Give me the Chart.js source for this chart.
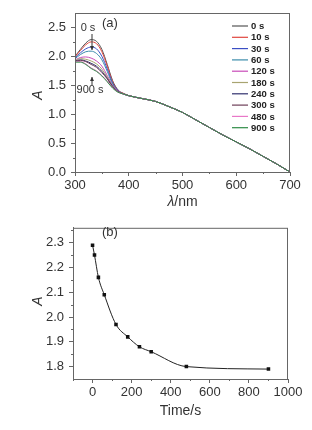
<!DOCTYPE html>
<html lang="en">
<head>
<meta charset="UTF-8">
<title>Absorbance</title>
<script src="https://cdn.jsdelivr.net/npm/chart.js@4.4.0/dist/chart.umd.min.js"></script>
<style>
  body { margin: 0; background: #fff; }
  canvas { display: block; }
</style>
</head>
<body>
<canvas id="chartA" width="312" height="215"></canvas>
<canvas id="chartB" width="312" height="215"></canvas>
<script>
// (a) spectra
const wavelengths = [300, 310, 320, 330, 340, 350, 360, 370, 380, 390, 400, 425, 450, 475, 500, 525, 550, 575, 600, 625, 650, 675, 700]
const timeLabels = ['0 s', '10 s', '30 s', '60 s', '120 s', '180 s', '240 s', '300 s', '480 s', '900 s']
// 300-400 nm part of each curve, the rest is shared
const a0   = [2.00, 2.12, 2.23, 2.29, 2.26, 2.12, 1.86, 1.58, 1.42, 1.36, 1.32]
const a10  = [1.99, 2.10, 2.20, 2.25, 2.22, 2.08, 1.83, 1.56, 1.41, 1.36, 1.32]
const a30  = [1.97, 2.06, 2.13, 2.16, 2.13, 2.00, 1.78, 1.54, 1.41, 1.35, 1.32]
const a60  = [1.96, 2.03, 2.08, 2.09, 2.05, 1.94, 1.74, 1.52, 1.40, 1.35, 1.32]
const a120 = [1.94, 1.98, 1.99, 1.97, 1.92, 1.83, 1.67, 1.50, 1.40, 1.35, 1.32]
const a180 = [1.93, 1.96, 1.95, 1.92, 1.87, 1.78, 1.64, 1.49, 1.39, 1.35, 1.32]
const a240 = [1.92, 1.94, 1.92, 1.88, 1.83, 1.74, 1.62, 1.48, 1.39, 1.35, 1.32]
const a300 = [1.92, 1.93, 1.91, 1.86, 1.81, 1.72, 1.61, 1.47, 1.39, 1.35, 1.32]
const a480 = [1.91, 1.91, 1.87, 1.80, 1.75, 1.67, 1.57, 1.46, 1.38, 1.35, 1.32]
const a900 = [1.90, 1.90, 1.86, 1.79, 1.74, 1.66, 1.56, 1.45, 1.38, 1.35, 1.32]
const tail = [1.27, 1.22, 1.13, 1.03, 0.90, 0.77, 0.64, 0.52, 0.40, 0.27, 0.14, 0.00]
const curvesA = [a0, a10, a30, a60, a120, a180, a240, a300, a480, a900]
const xTicksA = [300, 400, 500, 600, 700]
const yTicksA = [0, 0.5, 1.0, 1.5, 2.0, 2.5]

// (b) kinetics at peak
const times = [0, 10, 30, 60, 120, 180, 240, 300, 480, 900]
const absPeak = [2.29, 2.25, 2.16, 2.09, 1.97, 1.92, 1.88, 1.86, 1.80, 1.79]
const xTicksB = [0, 200, 400, 600, 800, 1000]
const yTicksB = [1.8, 1.9, 2.0, 2.1, 2.2, 2.3]

const lineColors = ['#555555', '#e0463e', '#3b4fc4', '#3b8cab', '#c84bb8', '#a8a470', '#30306e', '#6e3e58', '#e878c8', '#2e8c46']
const font = 'Arial, "Liberation Sans", sans-serif'
const ink = '#333'
const axisCol = '#666'

function frame(ctx, a) {
    ctx.save()
    ctx.strokeStyle = axisCol
    ctx.lineWidth = 1
    ctx.strokeRect(a.left + 0.5, a.top + 0.5, a.right - a.left - 1, a.bottom - a.top)
    ctx.restore()
}

function minorTicks(ctx, chart, xs, ys) {
    const a = chart.chartArea
    ctx.save()
    ctx.strokeStyle = axisCol
    ctx.lineWidth = 1
    ctx.beginPath()
    xs.forEach(v => {
        const px = Math.round(chart.scales.x.getPixelForValue(v)) + 0.5
        ctx.moveTo(px, a.bottom); ctx.lineTo(px, a.bottom + 2)
    })
    ys.forEach(v => {
        const py = Math.round(chart.scales.y.getPixelForValue(v)) + 0.5
        ctx.moveTo(a.left, py); ctx.lineTo(a.left - 2, py)
    })
    ctx.stroke()
    ctx.restore()
}

function yTitle(ctx, x, y) {
    ctx.save()
    ctx.translate(x, y)
    ctx.rotate(-Math.PI / 2)
    ctx.fillStyle = ink
    ctx.font = 'italic 14px ' + font
    ctx.textAlign = 'center'
    ctx.textBaseline = 'middle'
    ctx.fillText('A', 0, 0)
    ctx.restore()
}

function arrow(ctx, x, y1, y2) {
    const dir = y2 > y1 ? 1 : -1
    ctx.beginPath()
    ctx.moveTo(x, y1); ctx.lineTo(x, y2)
    ctx.stroke()
    ctx.beginPath()
    ctx.moveTo(x - 2, y2 - dir * 4); ctx.lineTo(x, y2); ctx.lineTo(x + 2, y2 - dir * 4)
    ctx.closePath()
    ctx.fill()
}

const decorA = {
    id: 'decorA',
    afterDraw(chart) {
        const ctx = chart.ctx
        const a = chart.chartArea
        frame(ctx, a)
        minorTicks(ctx, chart, [350, 450, 550, 650], [0.25, 0.75, 1.25, 1.75, 2.25])
        ctx.save()
        ctx.fillStyle = ink
        ctx.strokeStyle = ink
        ctx.lineWidth = 1
        ctx.textBaseline = 'middle'
        // axis title: italic lambda + /nm
        ctx.font = 'italic 14px ' + font
        const w1 = ctx.measureText('λ').width
        ctx.font = '14px ' + font
        const w2 = ctx.measureText('/nm').width
        const cx = (a.left + a.right) / 2
        let sx = cx - (w1 + w2) / 2
        ctx.font = 'italic 14px ' + font
        ctx.textAlign = 'left'
        ctx.fillText('λ', sx, 202)
        ctx.font = '14px ' + font
        ctx.fillText('/nm', sx + w1, 202)
        // labels inside plot
        ctx.font = '13px ' + font
        ctx.fillText('(a)', 102, 23)
        ctx.font = '11px ' + font
        ctx.textAlign = 'center'
        ctx.fillText('0 s', 88, 28)
        ctx.fillText('900 s', 90, 90)
        arrow(ctx, 92, 34, 50)
        arrow(ctx, 92, 85, 77)
        ctx.restore()
        yTitle(ctx, 38, 95)
        // legend, in time order
        ctx.save()
        ctx.font = 'bold 9.5px ' + font
        ctx.textBaseline = 'middle'
        ctx.textAlign = 'left'
        chart.data.datasets.forEach((d, i) => {
            const y = 26 + i * 11.3
            ctx.strokeStyle = d.borderColor
            ctx.lineWidth = 1.2
            ctx.beginPath()
            ctx.moveTo(232, y); ctx.lineTo(248, y)
            ctx.stroke()
            ctx.fillStyle = '#222'
            ctx.fillText(d.label, 251, y + 0.5)
        })
        ctx.restore()
    }
}

const decorB = {
    id: 'decorB',
    afterDraw(chart) {
        const ctx = chart.ctx
        const a = chart.chartArea
        frame(ctx, a)
        minorTicks(ctx, chart, [-100, 100, 300, 500, 700, 900], [1.85, 1.95, 2.05, 2.15, 2.25, 2.35])
        ctx.save()
        ctx.fillStyle = ink
        ctx.textBaseline = 'middle'
        ctx.textAlign = 'center'
        ctx.font = '14px ' + font
        ctx.fillText('Time/s', (a.left + a.right) / 2, 196)
        ctx.font = '13px ' + font
        ctx.textAlign = 'left'
        ctx.fillText('(b)', 102, 17)
        ctx.restore()
        yTitle(ctx, 38, 86)
    }
}

function axis(min, max, ticks, fmt, size, pad) {
    return {
        type: 'linear',
        min: min,
        max: max,
        afterBuildTicks: s => { s.ticks = ticks.map(v => ({ value: v })) },
        afterFit: s => { if (s.isHorizontal()) s.height = size; else s.width = size },
        grid: { drawOnChartArea: false, drawTicks: true, tickLength: 4, color: axisCol },
        border: { color: axisCol },
        ticks: {
            padding: pad,
            color: ink,
            font: { family: font, size: 13 },
            callback: fmt,
            maxRotation: 0,
            autoSkip: false
        }
    }
}

new Chart(document.getElementById('chartA'), {
    type: 'line',
    data: {
        datasets: curvesA.map((c, i) => ({
            label: timeLabels[i],
            data: c.concat(tail).map((v, j) => ({ x: wavelengths[j], y: v })),
            borderColor: lineColors[i],
            borderWidth: 1,
            pointRadius: 0,
            order: curvesA.length - i,
            cubicInterpolationMode: 'monotone'
        }))
    },
    options: {
        responsive: false,
        animation: false,
        layout: { padding: { top: 13, right: 22, left: 0, bottom: 0 } },
        plugins: { legend: { display: false }, tooltip: { enabled: false } },
        scales: {
            x: axis(300, 700, xTicksA, v => String(v), 43, 2),
            y: axis(0, 2.75, yTicksA, v => v.toFixed(1), 75, 5)
        }
    },
    plugins: [decorA]
})

new Chart(document.getElementById('chartB'), {
    type: 'line',
    data: {
        datasets: [{
            label: 'A',
            data: times.map((t, i) => ({ x: t, y: absPeak[i] })),
            borderColor: '#222',
            borderWidth: 1,
            backgroundColor: '#111',
            pointStyle: 'rect',
            pointRadius: 2.5,
            pointBorderWidth: 0,
            cubicInterpolationMode: 'monotone'
        }]
    },
    options: {
        responsive: false,
        animation: false,
        layout: { padding: { top: 3, right: 24, left: 0, bottom: 0 } },
        plugins: { legend: { display: false }, tooltip: { enabled: false } },
        scales: {
            x: axis(-100, 1000, xTicksB, v => String(v), 51, 2),
            y: axis(1.75, 2.36, yTicksB, v => v.toFixed(1), 73, 5)
        }
    },
    plugins: [decorB]
})
</script>
</body>
</html>
